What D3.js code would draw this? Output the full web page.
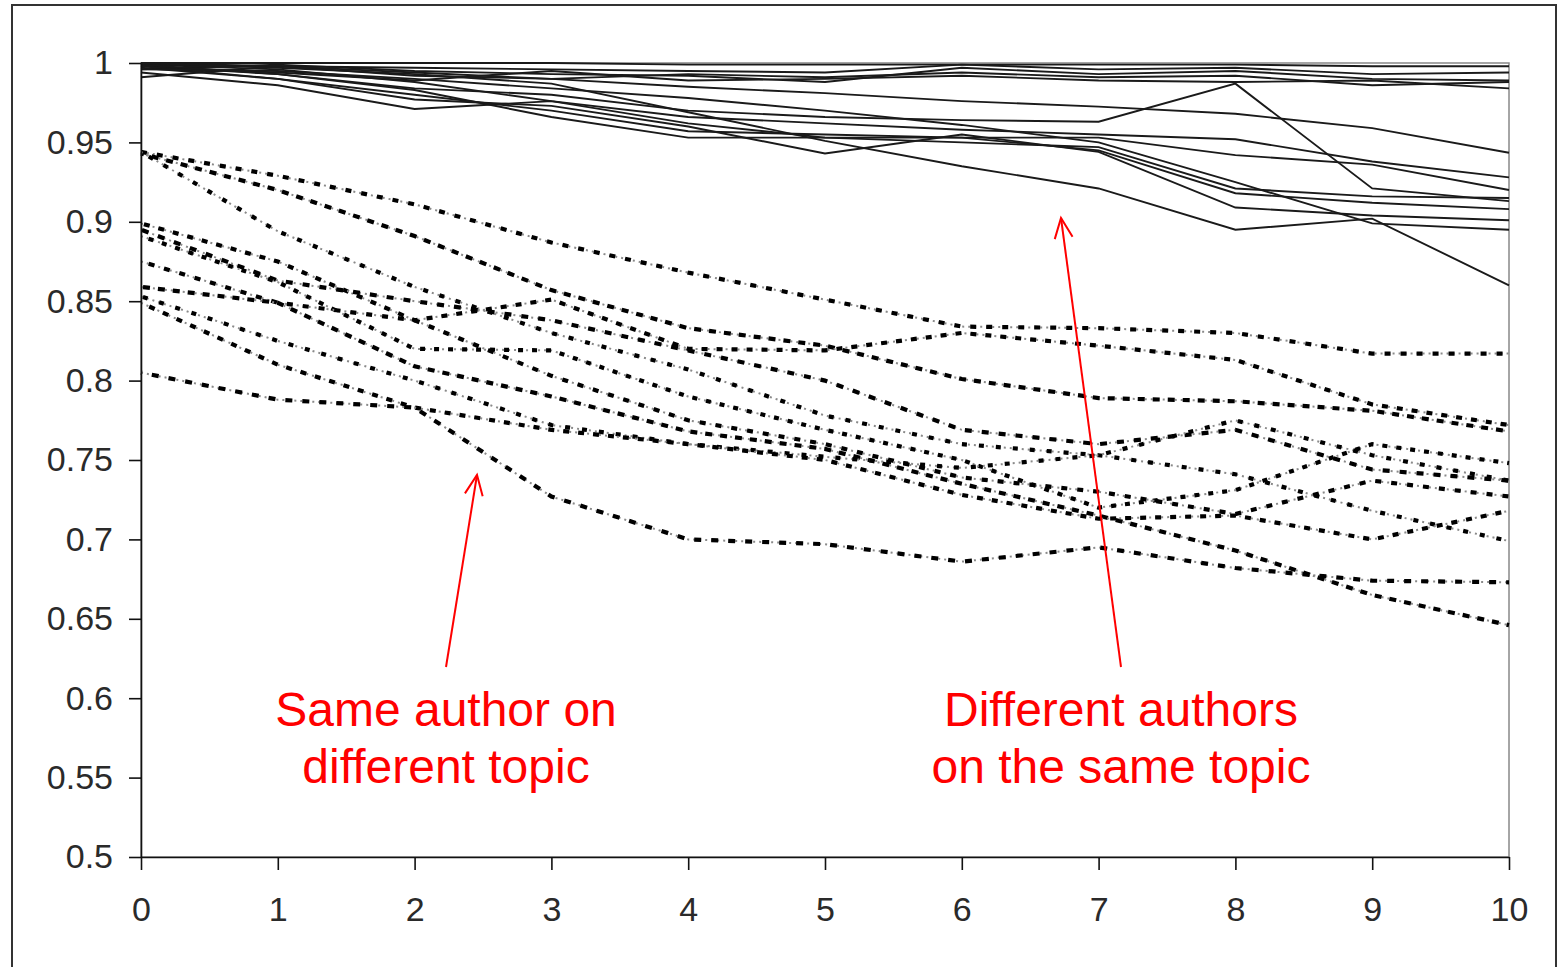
<!DOCTYPE html>
<html>
<head>
  <meta charset="utf-8">
  <script src="https://cdnjs.cloudflare.com/ajax/libs/d3/7.8.5/d3.min.js"></script>
  <title>Similarity decay</title>
  <style>
    body { margin: 0; background: #fff; }
    .axis text { font-family: "Liberation Sans", Arial, sans-serif; font-size: 34px; fill: #2a2a2a; }
    .axis path, .axis line { stroke: #111; stroke-width: 1.6; }
    .note { font-family: "Liberation Sans", Arial, sans-serif; font-size: 48px; fill: #ff0000; text-anchor: middle; }
  </style>
</head>
<body>
<script>
// x categories and tick values
const steps = [0, 1, 2, 3, 4, 5, 6, 7, 8, 9, 10];
const yTicks = [0.5, 0.55, 0.6, 0.65, 0.7, 0.75, 0.8, 0.85, 0.9, 0.95, 1];

// different authors, same topic (solid)
const sameTopic = [
  [1.000, 1.000, 1.000, 1.000, 0.999, 0.999, 0.999, 0.999, 0.999, 0.998, 0.998],
  [0.999, 0.998, 0.997, 0.996, 0.995, 0.994, 0.999, 0.996, 0.997, 0.993, 0.994],
  [0.996, 0.999, 0.995, 0.993, 0.992, 0.988, 0.997, 0.993, 0.995, 0.990, 0.989],
  [0.991, 0.998, 0.992, 0.990, 0.993, 0.991, 0.994, 0.991, 0.992, 0.986, 0.988],
  [0.998, 0.994, 0.989, 0.995, 0.989, 0.990, 0.992, 0.989, 0.988, 0.989, 0.984],
  [1.000, 0.998, 0.994, 0.990, 0.985, 0.981, 0.976, 0.9725, 0.968, 0.959, 0.9435],
  [0.998, 0.993, 0.984, 0.980, 0.970, 0.966, 0.964, 0.963, 0.987, 0.921, 0.913],
  [0.999, 0.996, 0.988, 0.976, 0.966, 0.962, 0.958, 0.955, 0.952, 0.938, 0.928],
  [0.997, 0.990, 0.980, 0.970, 0.957, 0.955, 0.953, 0.953, 0.942, 0.936, 0.920],
  [0.994, 0.986, 0.971, 0.976, 0.962, 0.953, 0.950, 0.947, 0.921, 0.916, 0.915],
  [0.999, 0.993, 0.983, 0.966, 0.953, 0.953, 0.953, 0.945, 0.918, 0.912, 0.908],
  [0.998, 0.990, 0.977, 0.973, 0.960, 0.943, 0.955, 0.944, 0.909, 0.904, 0.901],
  [1.000, 0.997, 0.993, 0.987, 0.969, 0.951, 0.935, 0.921, 0.895, 0.902, 0.860],
  [0.996, 0.995, 0.990, 0.984, 0.978, 0.970, 0.961, 0.950, 0.925, 0.899, 0.895]
];

// same author, different topic (dotted)
const sameAuthor = [
  [0.944, 0.929, 0.911, 0.887, 0.868, 0.851, 0.834, 0.833, 0.830, 0.817, 0.817],
  [0.943, 0.920, 0.891, 0.857, 0.833, 0.822, 0.801, 0.789, 0.787, 0.781, 0.768],
  [0.944, 0.894, 0.859, 0.830, 0.807, 0.778, 0.760, 0.753, 0.741, 0.718, 0.699],
  [0.899, 0.875, 0.838, 0.851, 0.820, 0.819, 0.830, 0.822, 0.813, 0.785, 0.772],
  [0.895, 0.863, 0.850, 0.838, 0.819, 0.800, 0.769, 0.760, 0.769, 0.744, 0.737],
  [0.891, 0.862, 0.820, 0.819, 0.790, 0.769, 0.750, 0.720, 0.731, 0.760, 0.748],
  [0.875, 0.849, 0.838, 0.803, 0.775, 0.760, 0.739, 0.730, 0.716, 0.737, 0.727],
  [0.859, 0.849, 0.809, 0.790, 0.768, 0.757, 0.735, 0.715, 0.693, 0.665, 0.646],
  [0.853, 0.825, 0.800, 0.772, 0.760, 0.752, 0.745, 0.753, 0.775, 0.753, 0.737],
  [0.849, 0.810, 0.783, 0.769, 0.760, 0.750, 0.728, 0.713, 0.715, 0.700, 0.718],
  [0.805, 0.788, 0.783, 0.727, 0.700, 0.697, 0.686, 0.695, 0.682, 0.674, 0.673]
];

const W = 1562, H = 967;
const svg = d3.select("body").append("svg")
    .attr("width", W)
    .attr("height", H);

// outer frame
svg.append("rect")
    .attr("x", 12).attr("y", 5)
    .attr("width", 1544).attr("height", 980)
    .attr("fill", "none")
    .attr("stroke", "#333")
    .attr("stroke-width", 2);

const x = d3.scaleLinear().domain([0, 10]).range([141, 1509]);
const y = d3.scaleLinear().domain([0.5, 1]).range([857, 63]);

// plot area border (top/right)
svg.append("rect")
    .attr("x", x(0)).attr("y", y(1))
    .attr("width", x(10) - x(0)).attr("height", y(0.5) - y(1))
    .attr("fill", "none")
    .attr("stroke", "#888")
    .attr("stroke-width", 1.5);

const line = d3.line()
    .x((d, i) => x(steps[i]))
    .y(d => y(d));

// dotted series: grey fine dots under black blocks
const dashes = ["6,10", "7,8", "5,12", "6,9", "7,10", "5,9"];
const dotted = svg.append("g");
sameAuthor.forEach(function(s, i) {
  dotted.append("path")
      .attr("d", line(s))
      .attr("fill", "none")
      .attr("stroke", "#8a8a8a")
      .attr("stroke-width", 2)
      .attr("stroke-dasharray", "2,4");
  dotted.append("path")
      .attr("d", line(s))
      .attr("fill", "none")
      .attr("stroke", "#000")
      .attr("stroke-width", 4.2)
      .attr("stroke-dasharray", dashes[i % dashes.length])
      .attr("stroke-dashoffset", i * 4);
});

// solid series
svg.append("g").selectAll("path")
    .data(sameTopic)
    .enter().append("path")
    .attr("d", line)
    .attr("fill", "none")
    .attr("stroke", "#1a1a1a")
    .attr("stroke-width", 1.9);

// axes
svg.append("g")
    .attr("class", "axis")
    .attr("transform", "translate(" + x(0) + ",0)")
    .call(d3.axisLeft(y).tickValues(yTicks).tickSize(12).tickSizeOuter(0).tickPadding(16)
      .tickFormat(d => String(+d.toFixed(2))));

svg.append("g")
    .attr("class", "axis")
    .attr("transform", "translate(0," + y(0.5) + ")")
    .call(d3.axisBottom(x).tickValues(steps).tickSize(13).tickSizeOuter(0).tickPadding(27)
      .tickFormat(d3.format("d")));

// annotations
function arrow(x1, y1, x2, y2) {
  const g = svg.append("g").attr("stroke", "#ff0000").attr("stroke-width", 2).attr("fill", "none");
  g.append("line").attr("x1", x1).attr("y1", y1).attr("x2", x2).attr("y2", y2);
  const a = Math.atan2(y1 - y2, x1 - x2), len = 22, sp = 0.42;
  g.append("path").attr("d",
    "M" + (x2 + len * Math.cos(a - sp)) + "," + (y2 + len * Math.sin(a - sp)) +
    "L" + x2 + "," + y2 +
    "L" + (x2 + len * Math.cos(a + sp)) + "," + (y2 + len * Math.sin(a + sp)));
}
arrow(446, 667, 477, 475);
arrow(1121, 667, 1061, 218);

const notes = [
  { x: 446, lines: ["Same author on", "different topic"] },
  { x: 1121, lines: ["Different authors", "on the same topic"] }
];
notes.forEach(function(n) {
  n.lines.forEach(function(t, i) {
    svg.append("text")
        .attr("class", "note")
        .attr("x", n.x)
        .attr("y", 726 + i * 57)
        .text(t);
  });
});
</script>
</body>
</html>
